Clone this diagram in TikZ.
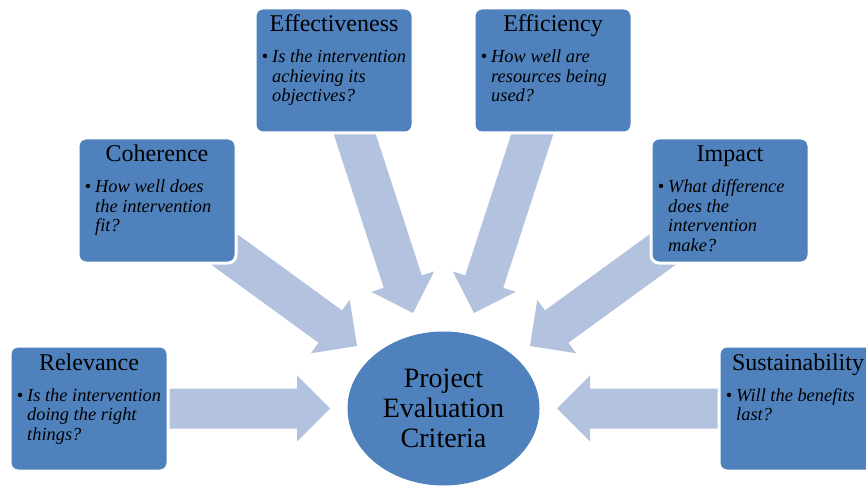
\documentclass[tikz,border=0pt]{standalone}
\usepackage{fontspec}
\setmainfont{Liberation Serif}
\usetikzlibrary{calc,shapes.geometric}
\pgfdeclarelayer{bg}
\pgfsetlayers{bg,main}
\definecolor{boxblue}{HTML}{4F81BD}
\definecolor{arrowblue}{HTML}{B3C2DE}
\tikzset{
  critbox/.style={draw=white, line width=3pt, fill=boxblue, rounded corners=8pt,
    minimum width=158pt, minimum height=125pt, anchor=north west, inner sep=0pt, outer sep=0pt},
  crittitle/.style={anchor=base, inner sep=0pt, font=\fontsize{24}{26}\selectfont},
  critbody/.style={anchor=base west, inner sep=0pt,
    font=\fontsize{18.4}{19.5}\selectfont\itshape},
  hub/.style={ellipse, fill=boxblue, minimum width=192pt, minimum height=154pt,
    inner sep=0pt, align=center, font=\fontsize{28}{30}\selectfont},
  arrowbody/.style={fill=arrowblue}
}
\newcommand{\critarrow}[2]{%
  \path coordinate (hb) at ($(#2)!33pt!(#1)$);
  \fill[arrowbody] ($(#1)!20pt!90:(#2)$) -- ($(hb)!20pt!90:(#2)$) -- ($(hb)!33pt!90:(#2)$)
    -- (#2) -- ($(hb)!33pt!-90:(#2)$) -- ($(hb)!20pt!-90:(#2)$) -- ($(#1)!20pt!-90:(#2)$) -- cycle;
}
\newcommand{\bul}{\makebox[0pt][r]{\upshape\textbullet\hspace{4pt}}}
\newcommand{\bodytext}[1]{\parbox[t]{150pt}{\raggedright\bul #1}}
\begin{document}
\begin{tikzpicture}[x=1pt,y=-1pt]
\clip (0,0) rectangle (866,486);

% boxes
\node[critbox] (rel)  at (10,346)  {};
\node[critbox] (coh)  at (78,138)  {};
\node[critbox] (eff)  at (255,8)   {};
\node[critbox] (effi) at (474,8)   {};
\node[critbox] (imp)  at (651,138) {};
\node[critbox] (sus)  at (719,346) {};

% hub
\node[hub] (hubnode) at (443.5,408.5) {Project\\Evaluation\\Criteria};

% titles
\node[crittitle] (relt)  at ($(rel.north)+(0,24)$)  {Relevance};
\node[crittitle] (coht)  at ($(coh.north)+(0,24)$)  {Coherence};
\node[crittitle] (efft)  at ($(eff.north)+(0,24)$)  {Effectiveness};
\node[crittitle] (effit) at ($(effi.north)+(0,24)$) {Efficiency};
\node[crittitle] (impt)  at ($(imp.north)+(0,24)$)  {Impact};
\node[crittitle] (sust)  at ($(sus.north)+(0,24)$)  {Sustainability};

% bodies
\node[critbody] (relb)  at ($(rel.north west)+(17,55)$)  {\bodytext{Is the intervention\\doing the right\\things?}};
\node[critbody] (cohb)  at ($(coh.north west)+(17,55)$)  {\bodytext{How well does\\the intervention\\fit?}};
\node[critbody] (effb)  at ($(eff.north west)+(17,55)$)  {\bodytext{Is the intervention\\achieving its\\objectives?}};
\node[critbody] (effib) at ($(effi.north west)+(17,55)$) {\bodytext{How well are\\resources being\\used?}};
\node[critbody] (impb)  at ($(imp.north west)+(17,55)$)  {\bodytext{What difference\\does the\\intervention\\make?}};
\node[critbody] (susb)  at ($(sus.north west)+(17,55)$)  {\bodytext{Will the benefits\\last?}};

% arrow tips
\coordinate (tiprel)  at (330,408.5);
\coordinate (tipcoh)  at (357,346);
\coordinate (tipeff)  at (413,313);
\coordinate (tipeffi) at (474,313);
\coordinate (tipimp)  at (530,346);
\coordinate (tipsus)  at (557,408.5);

\begin{pgfonlayer}{bg}
\fill[white] (0,0) rectangle (866,486);
\critarrow{rel.center}{tiprel}
\critarrow{coh.center}{tipcoh}
\critarrow{eff.center}{tipeff}
\critarrow{effi.center}{tipeffi}
\critarrow{imp.center}{tipimp}
\critarrow{sus.center}{tipsus}
\end{pgfonlayer}
\end{tikzpicture}
\end{document}
